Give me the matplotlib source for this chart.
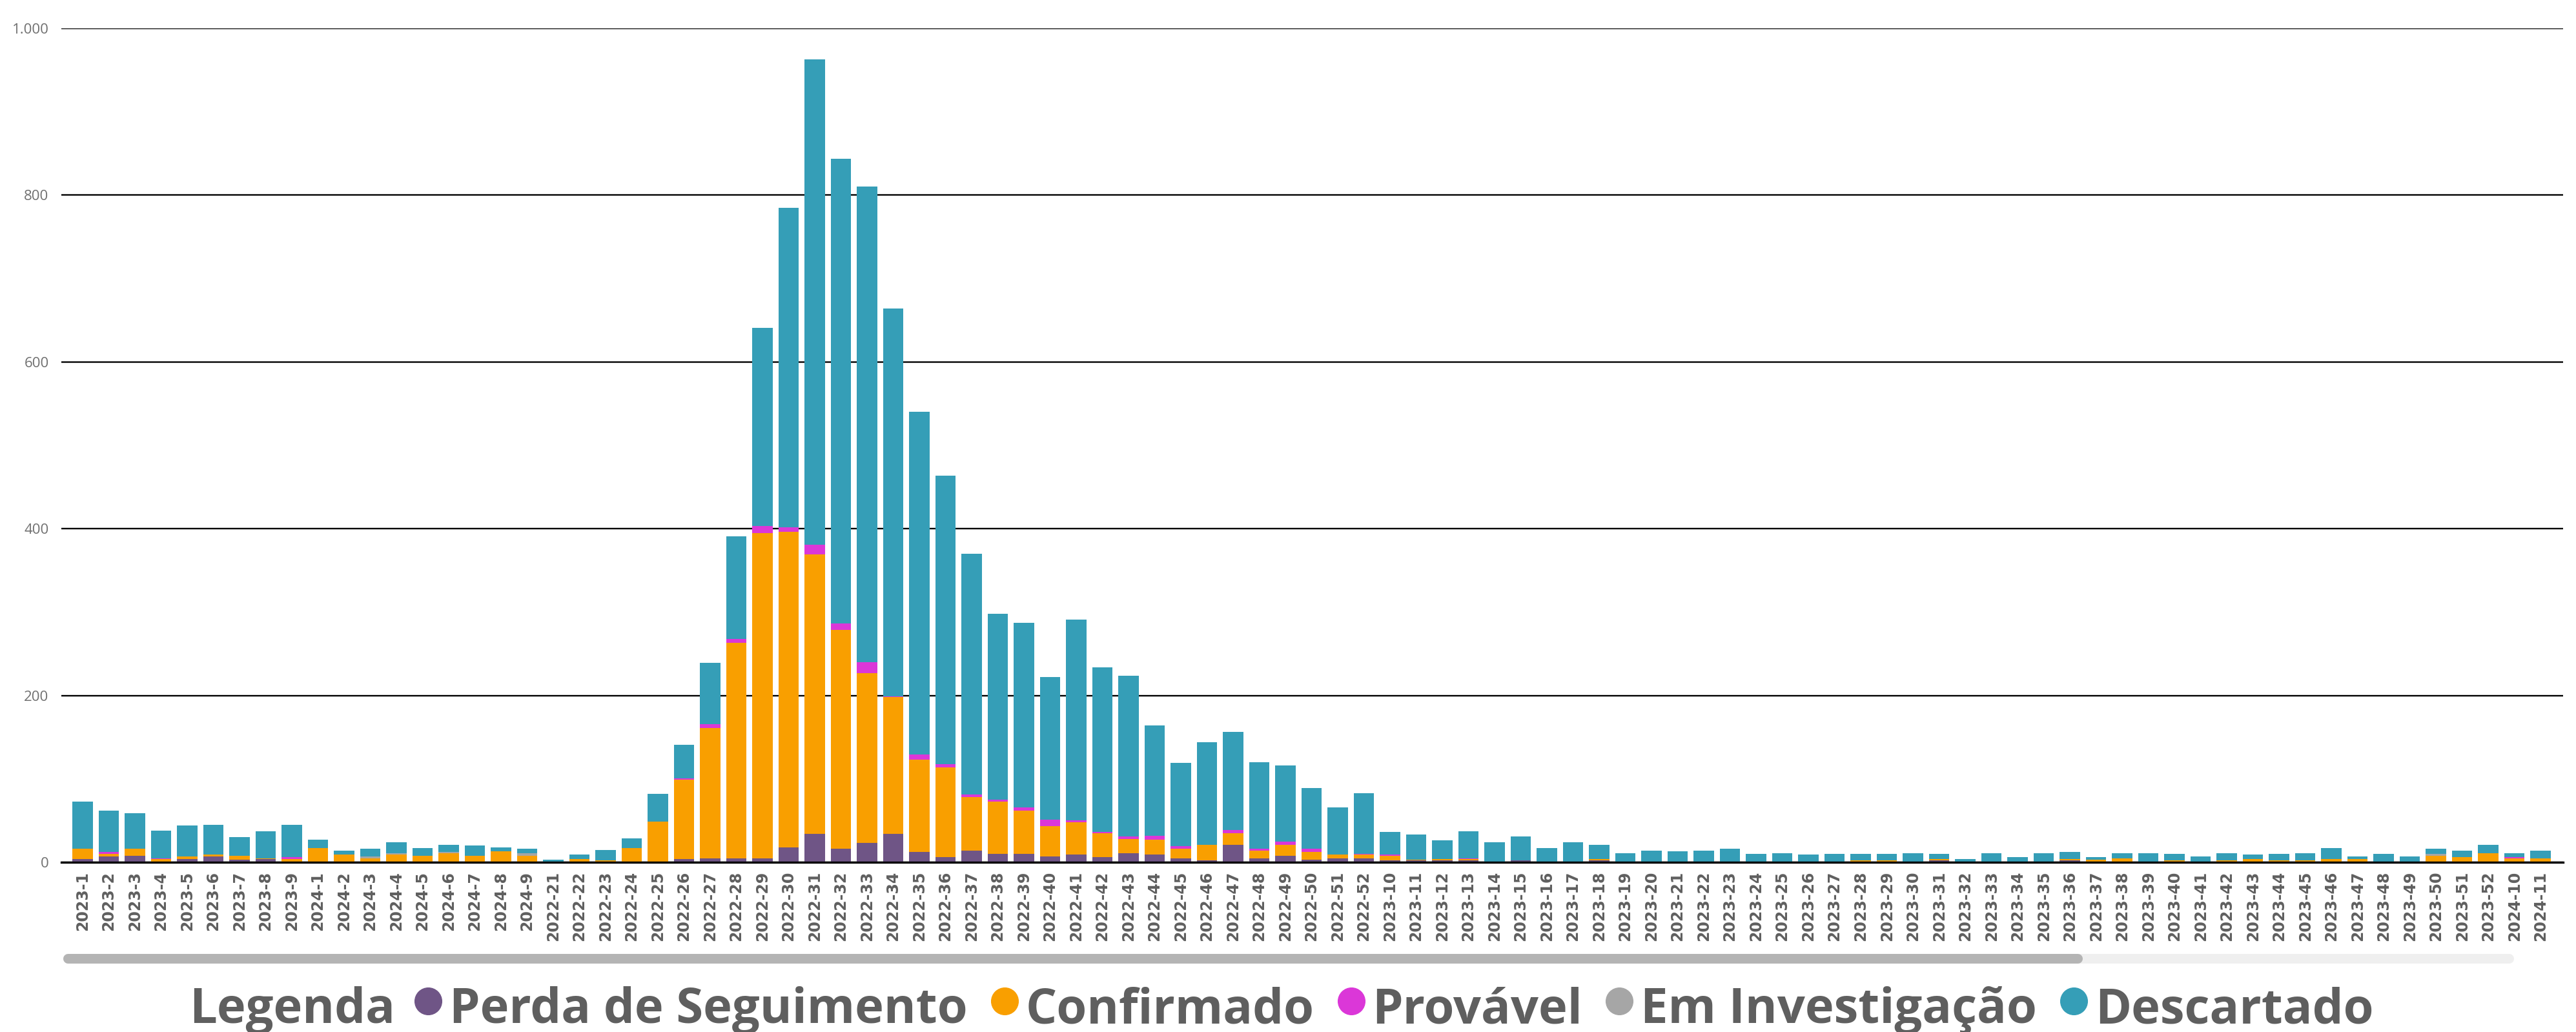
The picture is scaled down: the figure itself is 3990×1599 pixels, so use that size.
import numpy as np
import matplotlib.pyplot as plt
from matplotlib.lines import Line2D
from matplotlib.transforms import IdentityTransform

# semanas epidemiologicas (ordem como aparece no painel)
weeks = ['2023-1', '2023-2', '2023-3', '2023-4', '2023-5', '2023-6', '2023-7', '2023-8', '2023-9',
         '2024-1', '2024-2', '2024-3', '2024-4', '2024-5', '2024-6', '2024-7', '2024-8', '2024-9',
         '2022-21', '2022-22', '2022-23', '2022-24', '2022-25', '2022-26', '2022-27', '2022-28',
         '2022-29', '2022-30', '2022-31', '2022-32', '2022-33', '2022-34', '2022-35', '2022-36',
         '2022-37', '2022-38', '2022-39', '2022-40', '2022-41', '2022-42', '2022-43', '2022-44',
         '2022-45', '2022-46', '2022-47', '2022-48', '2022-49', '2022-50', '2022-51', '2022-52',
         '2023-10', '2023-11', '2023-12', '2023-13', '2023-14', '2023-15', '2023-16', '2023-17',
         '2023-18', '2023-19', '2023-20', '2023-21', '2023-22', '2023-23', '2023-24', '2023-25',
         '2023-26', '2023-27', '2023-28', '2023-29', '2023-30', '2023-31', '2023-32', '2023-33',
         '2023-34', '2023-35', '2023-36', '2023-37', '2023-38', '2023-39', '2023-40', '2023-41',
         '2023-42', '2023-43', '2023-44', '2023-45', '2023-46', '2023-47', '2023-48', '2023-49',
         '2023-50', '2023-51', '2023-52', '2024-10', '2024-11']

perda = [4, 7, 8, 0, 4, 7, 3, 4, 1,
         0, 0, 0, 1, 0, 0, 0, 0, 0,
         0, 0, 0, 0,
         1, 4, 5, 5, 5, 18, 34, 16, 23, 34, 12, 6, 14, 10, 10, 7, 9, 6, 11, 9, 5, 2, 21, 5, 8, 3, 5, 5,
         2, 2, 2, 2, 1, 2, 1, 0, 2, 0,
         0, 0, 0, 0, 0, 0, 1, 1, 1, 1,
         0, 2, 1, 0, 0, 0, 2, 0, 1, 1,
         0, 0, 0, 0, 0, 1, 0, 0, 0, 0,
         0, 1, 1,
         0, 0]

confirmado = [12, 3, 8, 4, 3, 2, 5, 1, 3,
              17, 9, 5, 8, 8, 11, 8, 13, 8,
              0, 4, 2, 17,
              48, 95, 156, 258, 390, 378, 335, 263, 204, 164, 111, 108, 64, 63, 52, 36, 39, 29, 17, 18,
              11, 19, 14, 9, 13, 9, 4, 4,
              6, 1, 2, 2, 0, 0, 0, 0, 2, 1,
              0, 0, 1, 0, 1, 1, 0, 0, 1, 1,
              0, 2, 0, 1, 0, 1, 2, 3, 4, 0,
              2, 0, 2, 4, 2, 1, 4, 4, 1, 1,
              8, 5, 10,
              5, 5]

provavel = [0, 2, 0, 1, 0, 0, 0, 0, 2,
            0, 0, 0, 0, 0, 0, 0, 0, 0,
            0, 0, 0, 0,
            0, 2, 5, 5, 8, 6, 12, 7, 13, 1, 6, 4, 3, 2, 4, 8, 2, 1, 3, 5, 3, 0, 4, 2, 4, 4, 0, 1,
            1, 0, 0, 1, 0, 0, 0, 0, 0, 0,
            0, 0, 0, 0, 0, 0, 0, 0, 0, 0,
            0, 0, 0, 0, 0, 0, 0, 0, 0, 0,
            0, 0, 0, 0, 0, 0, 0, 0, 0, 0,
            0, 0, 0,
            1, 0]

investigacao = [0, 0, 0, 0, 0, 0, 0, 0, 0,
                0, 0, 2, 2, 0, 1, 0, 0, 3,
                0, 0, 0, 0,
                0, 0, 0, 0, 0, 0, 0, 0, 0, 0, 0, 0, 0, 0, 0, 0, 0, 0, 0, 0, 0, 0, 0, 0, 0, 0, 0, 0,
                0, 0, 0, 0, 0, 0, 0, 0, 0, 0,
                0, 0, 0, 0, 0, 0, 0, 0, 0, 0,
                0, 0, 0, 0, 0, 0, 0, 0, 0, 0,
                0, 0, 0, 0, 0, 0, 0, 0, 0, 0,
                2, 0, 0,
                0, 0]

descartado = [57, 50, 43, 33, 37, 36, 22, 32, 39,
              10, 5, 9, 13, 9, 9, 12, 5, 5,
              3, 5, 13, 12,
              33, 40, 73, 123, 238, 383, 582, 558, 570, 465, 411, 346, 289, 223, 221, 171, 241, 198,
              193, 132, 100, 123, 117, 104, 91, 73, 57, 73,
              27, 30, 22, 32, 23, 29, 16, 24, 17, 10,
              14, 13, 13, 16, 9, 10, 8, 9, 8, 8,
              11, 6, 3, 10, 6, 10, 8, 3, 6, 10,
              8, 7, 9, 5, 8, 9, 13, 3, 9, 6,
              6, 8, 10,
              5, 9]

series = [('Perda de Seguimento', perda, '#6f5586'),
          ('Confirmado', confirmado, '#f99f00'),
          ('Provável', provavel, '#db37d8'),
          ('Em Investigação', investigacao, '#a6a6a6'),
          ('Descartado', descartado, '#359eb7')]

W, H = 3990, 1599
fig = plt.figure(figsize=(W / 100, H / 100), dpi=100)
ax = fig.add_axes([95 / W, 263 / H, 3875 / W, 1292 / H])

x = np.arange(len(weeks))
bottom = np.zeros(len(weeks))
for name, vals, col in series:
    vals = np.array(vals, dtype=float)
    ax.bar(x, vals, bottom=bottom, width=0.78, color=col, zorder=3)
    bottom += vals

ax.set_xlim(-0.815, 94.86)
ax.set_ylim(0, 1000)
ax.set_yticks([0, 200, 400, 600, 800, 1000])
ax.set_yticklabels(['0', '200', '400', '600', '800', '1.000'],
                   fontfamily='Open Sans', fontsize=16, color='#707070')
ax.grid(axis='y', color='black', linewidth=1.7, zorder=1)
ax.set_xticks(x)
ax.set_xticklabels(weeks, rotation=90, fontsize=17, fontweight='bold',
                   color='#5f5f5f', fontfamily='DejaVu Sans')
ax.tick_params(axis='both', length=0)
ax.tick_params(axis='y', pad=14)
ax.tick_params(axis='x', pad=10)
for s in ['top', 'right', 'left']:
    ax.spines[s].set_visible(False)
ax.spines['bottom'].set_linewidth(2.4)
ax.spines['bottom'].set_zorder(4)

# barra de rolagem
fig.add_artist(Line2D([105, 3886], [H - 1485, H - 1485], transform=IdentityTransform(),
                      color='#efefef', linewidth=10.8, solid_capstyle='round'))
fig.add_artist(Line2D([105, 3218], [H - 1485, H - 1485], transform=IdentityTransform(),
                      color='#b4b4b4', linewidth=10.8, solid_capstyle='round'))

# legenda
fig.canvas.draw()
r = fig.canvas.get_renderer()
base_y = (H - 1585) / H
mid_y = H - 1551
fs = 54.6
pos = 293
t = fig.text(pos / W, base_y, 'Legenda', fontsize=fs, fontweight='bold',
             fontfamily='Open Sans', color='#5f5f5f', va='baseline')
pos += t.get_window_extent(r).width + 30
for name, vals, col in series:
    fig.add_artist(Line2D([pos + 21], [mid_y], transform=IdentityTransform(), marker='o',
                          markersize=30, color=col, linestyle='none'))
    pos += 42 + 12
    t = fig.text(pos / W, base_y, name, fontsize=fs, fontweight='bold',
                 fontfamily='Open Sans', color='#5f5f5f', va='baseline')
    pos += t.get_window_extent(r).width + 36

fig.savefig('out.png', dpi=100)
